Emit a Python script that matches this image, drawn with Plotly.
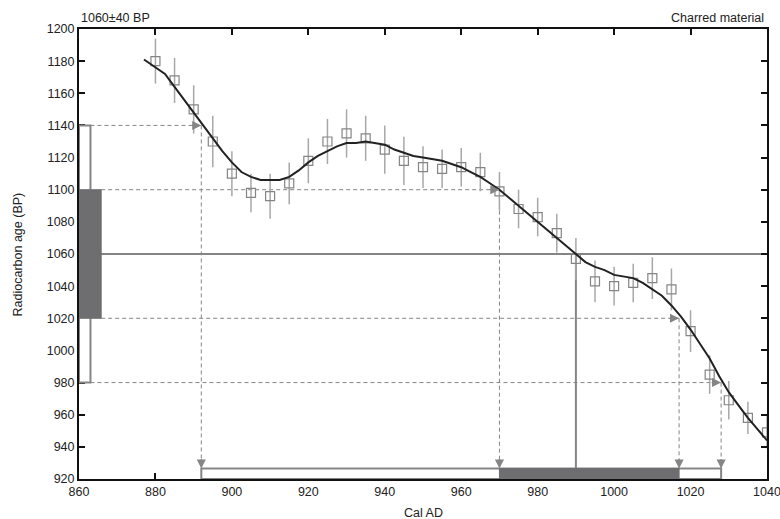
import plotly.graph_objects as go

# ---- data ----
cal_years = [880, 885, 890, 895, 900, 905, 910, 915, 920, 925, 930, 935, 940, 945, 950,
             955, 960, 965, 970, 975, 980, 985, 990, 995, 1000, 1005, 1010, 1015, 1020,
             1025, 1030, 1035, 1040]
bp_values = [1180, 1168, 1150, 1130, 1110, 1098, 1096, 1104, 1118, 1130, 1135, 1132, 1125,
             1118, 1114, 1113, 1114, 1111, 1099, 1088, 1083, 1073, 1057, 1043, 1040, 1042,
             1045, 1038, 1012, 985, 969, 958, 949]
bp_errors = [14, 14, 15, 16, 14, 12, 14, 13, 14, 14, 15, 14, 15, 15, 13,
             12, 12, 12, 12, 12, 12, 12, 13, 13, 12, 12, 13, 13, 13,
             12, 12, 10, 10]

curve_x = [877, 880, 882.5, 885, 887.5, 890, 892.5, 895, 897.5, 900, 902.5, 905, 907.5, 910,
           912.5, 915, 917.5, 920, 922.5, 925, 927.5, 930, 932.5, 935, 937.5, 940, 942.5,
           945, 947.5, 950, 952.5, 955, 957.5, 960, 962.5, 965, 967.5, 970, 972.5, 975,
           977.5, 980, 982.5, 985, 987.5, 990, 992.5, 995, 997.5, 1000, 1002.5, 1005,
           1007.5, 1010, 1012.5, 1015, 1017.5, 1020, 1022.5, 1025, 1027.5, 1030, 1032.5,
           1035, 1037.5, 1040]
curve_y = [1181, 1176, 1172, 1164, 1156, 1148, 1140, 1132, 1124, 1117, 1111, 1108, 1106, 1106,
           1106, 1108, 1112, 1117, 1121, 1124, 1127, 1129, 1129, 1130, 1129, 1128, 1125,
           1123, 1121, 1120, 1119, 1118, 1116, 1114, 1111, 1108, 1104, 1100, 1095, 1090,
           1085, 1080, 1075, 1070, 1065, 1060, 1055, 1052, 1050, 1047, 1046, 1045,
           1042, 1038, 1034, 1028, 1021, 1013, 1004, 995, 984, 974, 966,
           958, 951, 944]

measured_bp = 1060
measured_err = 40
median_cal = 990
range_1sigma = [970, 1017]
range_2sigma = [892, 1028]

title_left = "1060±40 BP"
title_right = "Charred material"
x_title = "Cal AD"
y_title = "Radiocarbon age (BP)"
x_ticks = list(range(860, 1041, 20))
y_ticks = list(range(920, 1201, 20))

# ---- style ----
GRAY = "#858585"
DARK = "#6e6e70"
LIGHT = "#a8a8a8"
FONT = "Liberation Sans, Arial, sans-serif"
FS = 12.5
bar_top = 926.5
x0 = 860

fig = go.Figure()

s1_lo, s1_hi = measured_bp - measured_err, measured_bp + measured_err
s2_lo, s2_hi = measured_bp - 2 * measured_err, measured_bp + 2 * measured_err

# dashed horizontal guide lines (from gaussian box to curve)
h_lines = [(s2_hi, 863, range_2sigma[0]), (s1_hi, 865.8, range_1sigma[0]),
           (s1_lo, 865.8, range_1sigma[1]), (s2_lo, 863, range_2sigma[1])]
for yv, xs, xe in h_lines:
    fig.add_trace(go.Scatter(x=[xs, xe], y=[yv, yv], mode="lines",
                             line=dict(color=GRAY, width=1, dash="4px,3px"),
                             hoverinfo="skip", showlegend=False))
    fig.add_annotation(x=xe, y=yv, ax=-11, ay=0, text="", showarrow=True,
                       arrowhead=2, arrowsize=1.4, arrowwidth=1.3, arrowcolor=GRAY)

# dashed vertical guide lines (from curve to bottom bars)
v_lines = [(range_2sigma[0], s2_hi), (range_1sigma[0], s1_hi),
           (range_1sigma[1], s1_lo), (range_2sigma[1], s2_lo)]
for xv, ys in v_lines:
    fig.add_trace(go.Scatter(x=[xv, xv], y=[ys, bar_top], mode="lines",
                             line=dict(color=GRAY, width=1, dash="4px,3px"),
                             hoverinfo="skip", showlegend=False))
    fig.add_annotation(x=xv, y=bar_top, ax=0, ay=-11, text="", showarrow=True,
                       arrowhead=2, arrowsize=1.4, arrowwidth=1.3, arrowcolor=GRAY)

# measured age horizontal line and median vertical line
fig.add_trace(go.Scatter(x=[860, 1040], y=[measured_bp, measured_bp], mode="lines",
                         line=dict(color=GRAY, width=2), hoverinfo="skip", showlegend=False))
fig.add_trace(go.Scatter(x=[median_cal, median_cal], y=[bar_top, measured_bp], mode="lines",
                         line=dict(color=GRAY, width=2), hoverinfo="skip", showlegend=False))

# gaussian boxes on y axis
fig.add_shape(type="rect", x0=x0, x1=863, y0=s2_lo, y1=s2_hi,
              line=dict(color=GRAY, width=2), fillcolor="white", layer="above")
fig.add_shape(type="rect", x0=x0, x1=865.8, y0=s1_lo, y1=s1_hi,
              line=dict(color=DARK, width=1), fillcolor=DARK, layer="above")

# calibrated ranges on x axis
fig.add_shape(type="rect", x0=range_2sigma[0], x1=range_2sigma[1], y0=920, y1=bar_top,
              line=dict(color=GRAY, width=2), fillcolor="white", layer="above")
fig.add_shape(type="rect", x0=range_1sigma[0], x1=range_1sigma[1], y0=920, y1=bar_top,
              line=dict(color=DARK, width=1), fillcolor=DARK, layer="above")

# data points with error bars
fig.add_trace(go.Scatter(x=cal_years, y=bp_values, mode="markers",
                         marker=dict(symbol="square-open", size=9, color=GRAY,
                                     line=dict(width=1.2, color=GRAY)),
                         error_y=dict(type="data", array=bp_errors, color=LIGHT,
                                      thickness=1.5, width=0),
                         showlegend=False))

# calibration curve
fig.add_trace(go.Scatter(x=curve_x, y=curve_y, mode="lines",
                         line=dict(color="#222222", width=2), showlegend=False))

axis_common = dict(showgrid=False, zeroline=False, showline=True, linecolor="#111111",
                   linewidth=2, mirror="ticks", ticks="inside", ticklen=6, tickwidth=2,
                   tickcolor="#111111", ticklabeloverflow="allow", automargin=False,
                   tickfont=dict(size=FS, color="#222222", family=FONT))

fig.update_xaxes(range=[860, 1040], tickvals=x_ticks, **axis_common)
fig.update_yaxes(range=[920, 1200], tickvals=y_ticks, **axis_common)

fig.add_annotation(text=title_left, xref="paper", yref="paper", x=0.0, y=1.004,
                   xanchor="left", yanchor="bottom", showarrow=False,
                   font=dict(size=FS, color="#222222", family=FONT))
fig.add_annotation(text=title_right, xref="paper", yref="paper", x=0.998, y=1.004,
                   xanchor="right", yanchor="bottom", showarrow=False,
                   font=dict(size=FS, color="#222222", family=FONT))
fig.add_annotation(text=x_title, xref="paper", yref="paper", x=0.5, y=-0.056,
                   xanchor="center", yanchor="top", showarrow=False,
                   font=dict(size=FS, color="#222222", family=FONT))
fig.add_annotation(text=y_title, xref="paper", yref="paper", x=-0.088, y=0.5,
                   xanchor="center", yanchor="middle", textangle=-90, showarrow=False,
                   font=dict(size=FS, color="#222222", family=FONT))

fig.update_layout(width=780, height=519, margin=dict(l=79, r=13, t=29, b=40),
                  plot_bgcolor="white", paper_bgcolor="white",
                  font=dict(family=FONT))

# remove the default page margin so the figure fills the window exactly
fig.write_html("out.html", config={"displayModeBar": False},
               post_script="document.body.style.margin='0';document.body.style.overflow='hidden';")
